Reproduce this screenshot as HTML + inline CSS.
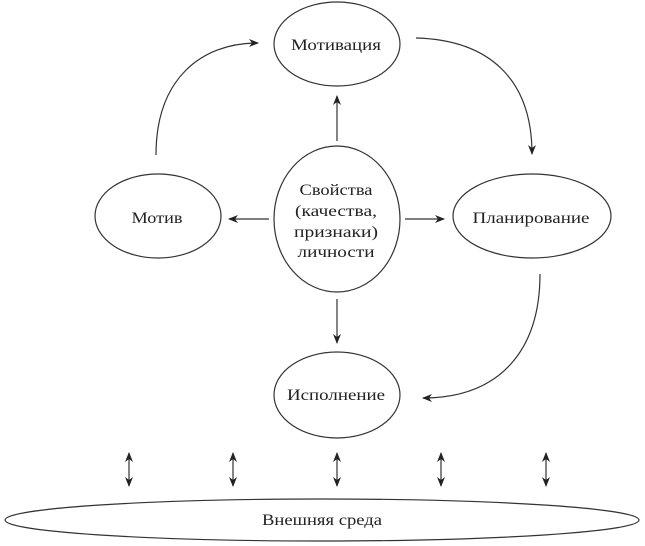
<!DOCTYPE html>
<html><head><meta charset="utf-8"><style>html,body{margin:0;padding:0;background:#fff}svg{display:block}</style></head>
<body>
<svg width="645" height="546" viewBox="0 0 645 546" xmlns="http://www.w3.org/2000/svg">
<defs>
<marker id="a" markerWidth="10" markerHeight="8" refX="9" refY="4" orient="auto" markerUnits="userSpaceOnUse">
<path d="M0,0 L10,4 L0,8 L3,4 Z" fill="#222"/>
</marker>
<marker id="b" markerWidth="10" markerHeight="8" refX="1" refY="4" orient="auto" markerUnits="userSpaceOnUse">
<path d="M10,0 L0,4 L10,8 L7,4 Z" fill="#222"/>
</marker>
</defs>
<g fill="none" stroke="#333" stroke-width="1.2">
<ellipse cx="337" cy="44" rx="63" ry="42"/>
<ellipse cx="337" cy="219" rx="63" ry="73"/>
<ellipse cx="158" cy="216" rx="63" ry="42"/>
<ellipse cx="532" cy="216" rx="79" ry="42"/>
<ellipse cx="337" cy="395" rx="63" ry="43"/>
<ellipse cx="322" cy="520" rx="317" ry="21"/>
<line x1="337" y1="141" x2="337" y2="96" marker-end="url(#a)"/>
<line x1="337" y1="299" x2="337" y2="343" marker-end="url(#a)"/>
<line x1="269" y1="219" x2="229" y2="219" marker-end="url(#a)"/>
<line x1="405" y1="219" x2="444" y2="219" marker-end="url(#a)"/>
<path d="M156,155 C156,80 200,43 258,43" marker-end="url(#a)"/>
<path d="M416,38 C490,40 532,80 532,154" marker-end="url(#a)"/>
<path d="M540,274 C540,350 500,398 423,398" marker-end="url(#a)"/>
<line x1="129" y1="453" x2="129" y2="486" marker-start="url(#b)" marker-end="url(#a)"/>
<line x1="233" y1="453" x2="233" y2="486" marker-start="url(#b)" marker-end="url(#a)"/>
<line x1="337" y1="453" x2="337" y2="486" marker-start="url(#b)" marker-end="url(#a)"/>
<line x1="441" y1="453" x2="441" y2="486" marker-start="url(#b)" marker-end="url(#a)"/>
<line x1="546" y1="453" x2="546" y2="486" marker-start="url(#b)" marker-end="url(#a)"/>
</g>
<g font-family="'Liberation Serif', serif" font-size="16" fill="#222" text-anchor="middle">
<text x="336" y="50" textLength="90" lengthAdjust="spacingAndGlyphs">Мотивация</text>
<text x="336" y="195" textLength="73" lengthAdjust="spacingAndGlyphs">Свойства</text>
<text x="336" y="216" textLength="82" lengthAdjust="spacingAndGlyphs">(качества,</text>
<text x="336" y="237" textLength="84" lengthAdjust="spacingAndGlyphs">признаки)</text>
<text x="336" y="257" textLength="77" lengthAdjust="spacingAndGlyphs">личности</text>
<text x="157" y="223" textLength="51" lengthAdjust="spacingAndGlyphs">Мотив</text>
<text x="531" y="223" textLength="117" lengthAdjust="spacingAndGlyphs">Планирование</text>
<text x="336" y="400" textLength="98" lengthAdjust="spacingAndGlyphs">Исполнение</text>
<text x="322" y="525" textLength="120" lengthAdjust="spacingAndGlyphs">Внешняя среда</text>
</g>
</svg>
</body></html>
